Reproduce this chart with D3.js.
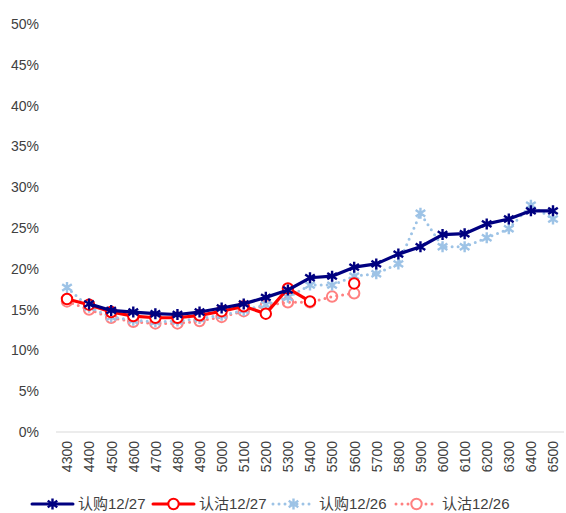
<!DOCTYPE html>
<html>
<head>
<meta charset="utf-8">
<script src="https://cdn.jsdelivr.net/npm/d3@7"></script>
<style>
  html, body { margin: 0; padding: 0; background: #fff; }
  svg { display: block; }
  text { font-family: "Liberation Sans", "Noto Sans CJK SC", sans-serif; fill: #404040; }
  .legend text { font-family: "Liberation Sans", "Noto Sans CJK SC", sans-serif; font-size: 15px; }
</style>
</head>
<body>
<svg id="chart" width="566" height="513"></svg>
<script>
// Strike prices
const strikes = [4300, 4400, 4500, 4600, 4700, 4800, 4900, 5000, 5100, 5200, 5300, 5400,
                 5500, 5600, 5700, 5800, 5900, 6000, 6100, 6200, 6300, 6400, 6500];

// Implied volatility (%) by strike; null = no quote
const call1227 = [null, 15.7, 14.9, 14.7, 14.5, 14.4, 14.7, 15.2, 15.7, 16.5, 17.4, 18.9,
                  19.1, 20.2, 20.6, 21.8, 22.7, 24.2, 24.3, 25.5, 26.1, 27.1, 27.1];
const put1227  = [16.3, 15.6, 14.7, 14.2, 14.0, 14.0, 14.3, 14.8, 15.4, 14.5, 17.6, 16.0,
                  null, 18.2, null, null, null, null, null, null, null, null, null];
const call1226 = [17.7, 15.3, 14.1, 13.7, 13.5, 13.6, 13.9, 14.3, 14.9, 15.6, 16.5, 18.0,
                  18.0, 19.1, 19.4, 20.6, 26.8, 22.7, 22.7, 23.8, 24.9, 27.8, 26.1];
const put1226  = [16.0, 15.0, 14.0, 13.5, 13.3, 13.3, 13.6, 14.1, 14.8, 15.5, 15.9, 15.9,
                  16.6, 17.0, null, null, null, null, null, null, null, null, null];

const yTicks = [0, 5, 10, 15, 20, 25, 30, 35, 40, 45, 50];

const series = [
  { name: "认购12/27", values: call1227, color: "#000080", dash: null, marker: "star", fill: "none" },
  { name: "认沽12/27", values: put1227,  color: "#FF0000", dash: null, marker: "circle", fill: "#fff" },
  { name: "认购12/26", values: call1226, color: "#9DC3E6", dash: "0 6", marker: "star", fill: "none" },
  { name: "认沽12/26", values: put1226,  color: "#FF8080", dash: "0 6", marker: "circle", fill: "none" }
];

const svg = d3.select("#chart");
const plot = { left: 56, right: 564, top: 24, bottom: 432 };

const x = d3.scalePoint().domain(strikes).range([67, 553]);
const y = d3.scaleLinear().domain([0, 50]).range([plot.bottom, plot.top]);

// Baseline
svg.append("line")
  .attr("x1", plot.left).attr("x2", plot.right)
  .attr("y1", y(0)).attr("y2", y(0))
  .attr("stroke", "#d9d9d9").attr("stroke-width", 1);

// Y axis labels
const yAxis = svg.append("g").attr("transform", "translate(39,0)")
  .call(d3.axisLeft(y).tickValues(yTicks).tickSize(0).tickPadding(0).tickFormat(d => d + "%"));
yAxis.select(".domain").remove();
yAxis.selectAll("text").attr("font-size", 14).attr("font-family", "Liberation Sans").attr("fill", "#404040");

// X axis labels (rotated)
const xAxis = svg.append("g").attr("transform", `translate(0,${plot.bottom})`)
  .call(d3.axisBottom(x).tickSize(0).tickPadding(0));
xAxis.select(".domain").remove();
xAxis.selectAll("text")
  .attr("font-size", 14).attr("font-family", "Liberation Sans").attr("fill", "#404040")
  .attr("text-anchor", "end")
  .attr("transform", "translate(0,9) rotate(-90)")
  .attr("x", 0).attr("y", 0).attr("dy", "0.35em");

const line = d3.line()
  .defined(d => d.v != null)
  .x(d => x(d.k)).y(d => y(d.v));

const starPath = "M0,-5.5V5.5M-4.8,-3.2L4.8,3.2M-4.8,3.2L4.8,-3.2";

function drawMarker(g, s, cx, cy) {
  if (s.marker === "star") {
    g.append("path").attr("d", starPath)
      .attr("transform", `translate(${cx},${cy})`)
      .attr("stroke", s.color).attr("stroke-width", 2.4).attr("fill", "none");
  } else {
    g.append("circle").attr("cx", cx).attr("cy", cy).attr("r", 5.2)
      .attr("stroke", s.color).attr("stroke-width", 2).attr("fill", s.fill);
  }
}

// Draw series, later-dated last so they sit on top
const order = [3, 2, 1, 0];
order.forEach(i => {
  const s = series[i];
  const data = strikes.map((k, j) => ({ k, v: s.values[j] }));
  const g = svg.append("g");
  g.append("path").datum(data)
    .attr("d", line)
    .attr("fill", "none")
    .attr("stroke", s.color)
    .attr("stroke-width", s.dash ? 3 : 3.2)
    .attr("stroke-linecap", "round")
    .attr("stroke-linejoin", "round")
    .attr("stroke-dasharray", s.dash);
  data.filter(d => d.v != null).forEach(d => drawMarker(g, s, x(d.k), y(d.v)));
});

// Legend
const legend = svg.append("g").attr("class", "legend");
const legendX = [32, 153, 273, 396];
series.forEach((s, i) => {
  const lx = legendX[i], ly = 504;
  const g = legend.append("g");
  g.append("line").attr("x1", lx).attr("x2", lx + 41).attr("y1", ly).attr("y2", ly)
    .attr("stroke", s.color).attr("stroke-width", 3)
    .attr("stroke-linecap", "round")
    .attr("stroke-dasharray", s.dash);
  drawMarker(g, Object.assign({}, s, { fill: "#fff" }), lx + 20.5, ly);
  g.append("text").attr("x", lx + 46).attr("y", ly).attr("dy", "0.36em")
    .attr("fill", "#404040")
    .text(s.name);
});
</script>
</body>
</html>
